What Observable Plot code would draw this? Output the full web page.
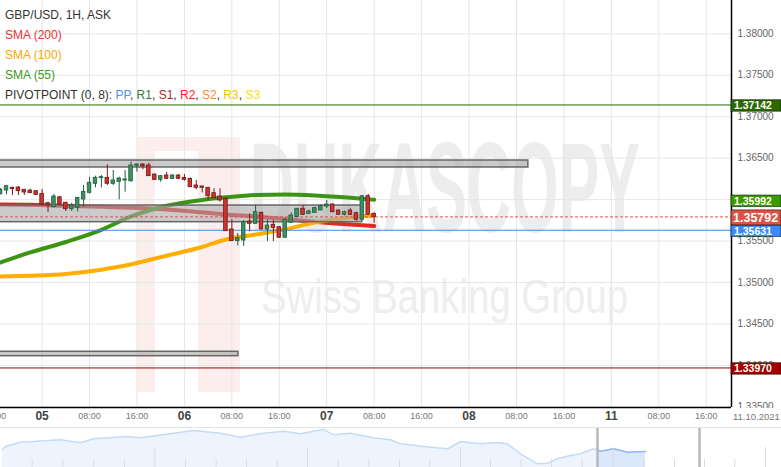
<!DOCTYPE html>
<html><head><meta charset="utf-8">
<script src="https://cdn.jsdelivr.net/npm/d3@7"></script>
<script src="https://cdn.jsdelivr.net/npm/@observablehq/plot@0.6"></script>
<style>
body{margin:0;background:#fff;font-family:"Liberation Sans",Arial,sans-serif;}
#wrap{position:relative;width:781px;height:467px;overflow:hidden;background:#fff;}
#nav{border-top:1px solid #e3e3e3;}
#legend{position:absolute;left:5px;top:5px;font-size:12px;line-height:20px;color:#333;white-space:nowrap;}
#date{position:absolute;left:733px;top:411px;font-size:9.5px;color:#777;}
</style></head><body>
<div id="wrap">
<div id="chart"></div>
<div id="nav"></div>
<div id="legend">
<div>GBP/USD, 1H, ASK</div>
<div style="color:#f23030">SMA (200)</div>
<div style="color:#ffa500">SMA (100)</div>
<div style="color:#3a9a1a">SMA (55)</div>
<div>PIVOTPOINT (0, 8): <span style="color:#4a8fe8">PP</span>, <span style="color:#2e7d32">R1</span>, <span style="color:#b22222">S1</span>, <span style="color:#ff2222">R2</span>, <span style="color:#ff8a1e">S2</span>, <span style="color:#ffc000">R3</span>, <span style="color:#f2e20a">S3</span></div>
</div>
<div id="date">11.10.2021</div>
</div>
<script>
// ---- data ----
const candleHours = d3.range(-7, 57); // hourly bars, hour 0 = 05 Oct 00:00
const open = [1.36070,1.36110,1.36143,1.36146,1.36119,1.36110,1.36102,1.36070,1.35957,1.35909,1.36028,1.35962,1.35885,1.35902,1.36002,1.36082,1.36191,1.36259,1.36263,1.36191,1.36215,1.36231,1.36222,1.36408,1.36424,1.36412,1.36303,1.36239,1.36291,1.36251,1.36291,1.36263,1.36251,1.36171,1.36159,1.36143,1.36078,1.36038,1.36009,1.35640,1.35499,1.35507,1.35736,1.35709,1.35841,1.35640,1.35697,1.35668,1.35540,1.35721,1.35788,1.35890,1.35829,1.35841,1.35869,1.35917,1.35941,1.35869,1.35817,1.35869,1.35837,1.35757,1.36041,1.35829];
const high = [1.36134,1.36171,1.36150,1.36159,1.36122,1.36126,1.36108,1.36122,1.35969,1.36062,1.36038,1.35969,1.35957,1.36028,1.36171,1.36271,1.36283,1.36291,1.36420,1.36351,1.36271,1.36351,1.36452,1.36432,1.36432,1.36439,1.36309,1.36291,1.36327,1.36303,1.36303,1.36303,1.36261,1.36231,1.36162,1.36146,1.36131,1.36131,1.36028,1.35757,1.35592,1.35748,1.35829,1.35929,1.35849,1.35757,1.35748,1.35674,1.35769,1.35841,1.35893,1.35926,1.35877,1.35909,1.35938,1.35990,1.35950,1.35873,1.35861,1.35890,1.35849,1.36050,1.36062,1.35841];
const low = [1.36056,1.36058,1.36050,1.36050,1.36050,1.36074,1.36052,1.35929,1.35845,1.35902,1.35935,1.35857,1.35857,1.35853,1.35909,1.36070,1.36143,1.36143,1.36171,1.36171,1.35998,1.36090,1.36210,1.36331,1.36360,1.36279,1.36231,1.36210,1.36243,1.36243,1.36243,1.36222,1.36146,1.36119,1.36082,1.35990,1.36009,1.35969,1.35616,1.35495,1.35441,1.35435,1.35611,1.35706,1.35636,1.35495,1.35495,1.35536,1.35535,1.35712,1.35785,1.35815,1.35827,1.35839,1.35867,1.35893,1.35841,1.35815,1.35803,1.35809,1.35740,1.35748,1.35809,1.35716];
const close = [1.36119,1.36162,1.36126,1.36102,1.36086,1.36078,1.36058,1.35941,1.35938,1.36038,1.35941,1.35885,1.35929,1.36021,1.36094,1.36203,1.36263,1.36271,1.36191,1.36231,1.36255,1.36243,1.36412,1.36424,1.36403,1.36283,1.36239,1.36283,1.36251,1.36291,1.36251,1.36239,1.36150,1.36142,1.36143,1.36041,1.36016,1.35990,1.35619,1.35499,1.35535,1.35728,1.35709,1.35849,1.35640,1.35688,1.35660,1.35540,1.35757,1.35809,1.35890,1.35817,1.35857,1.35897,1.35921,1.35941,1.35849,1.35817,1.35849,1.35817,1.35757,1.36041,1.35817,1.35792];

const smaHours = [-7,-2,4,10,15,18,21,27,31,36,41,46,52,56];
const sma200 = [1.35941,1.35938,1.35926,1.35914,1.35902,1.35893,1.35881,1.35847,1.35821,1.35797,1.35766,1.35734,1.35700,1.35682];
const sma100 = [1.35073,1.35083,1.35104,1.35155,1.35220,1.35272,1.35323,1.35429,1.35519,1.35580,1.35642,1.35724,1.35785,1.35809];
const sma55  = [1.35242,1.35363,1.35489,1.35636,1.35797,1.35869,1.35926,1.35997,1.36028,1.36056,1.36062,1.36051,1.36023,1.35998];

const zoneFrom = [-8,-8,-8];
const zoneTo = [82.0,54.0,33.1];
const zoneLow = [1.36388,1.35728,1.34112];
const zoneHigh = [1.36472,1.35929,1.34165];

const pivotPP = 1.35631, pivotR1 = 1.37142, pivotS1 = 1.33970;
const lastPrice = 1.35792;
const sma55Last = 1.35992;

const tagValues = [pivotR1, pivotS1, sma55Last, pivotPP, lastPrice];
const tagLabels = ["1.37142","1.33970","1.35992","1.35631","1.35792"];
const tagColors = ["#2b6a00","#a30000","#3a9a00","#3d89f5","#dc5443"];

const yTicks = [1.335,1.34,1.345,1.35,1.355,1.36,1.365,1.37,1.375,1.38];
const gridHours = [-8,0,8,16,24,32,40,48,56,64,72,80,88,96,104,112];
const timeTickHours = [-8,8,16,32,40,56,64,80,88,104,112];
const timeTickLabels = ["16:00","08:00","16:00","08:00","16:00","08:00","16:00","08:00","16:00","08:00","16:00"];
const dayTickHours = [0,24,48,72,96];
const dayTickLabels = ["05","06","07","08","11"];

// navigator (overview) series
const navT = [2,5,20,33,60,80,93,127,140,170,193,220,240,263,283,300,323,333,350,373,390,400,430,447,460,480,497,507,520,537,547,557,570,580,593,597,600,613,627,645];
const navV = [1.3530,1.3545,1.35665,1.3570,1.35785,1.35635,1.35835,1.3595,1.35885,1.36085,1.3625,1.36115,1.35915,1.36115,1.36215,1.36085,1.3630,1.36035,1.36115,1.35885,1.35785,1.35585,1.35415,1.35335,1.3570,1.35585,1.3565,1.35585,1.35085,1.34585,1.34615,1.34835,1.3500,1.35085,1.35335,1.35275,1.35215,1.35335,1.35165,1.3520];
const navSelStart = 597;
const navHandles = [597, 699];
const navShortTicks = [31.7,62.3,93.3,124,185,215.7,246,276.7,337.7,368.3,399,429.3,490,520.7,551,581.7,643.3,674,704,734.3];
const navLongTicks = [154.3,307,460,612.7,765];

// ---- build ----
const candles = candleHours.map((h,i)=>({h, open:open[i], high:high[i], low:low[i], close:close[i]}));
const up = d => d.close >= d.open;
const sma = smaHours.map((h,i)=>({h, a:sma200[i], b:sma100[i], c:sma55[i]}));
const zones = zoneFrom.map((f,i)=>({from:f, to:zoneTo[i], lo:zoneLow[i], hi:zoneHigh[i]}));
const timeLabel = new Map(timeTickHours.map((h,i)=>[h,timeTickLabels[i]]));
const dayLabel = new Map(dayTickHours.map((h,i)=>[h,dayTickLabels[i]]));
const xDomain = [-7.015, 116.26];
const yDomain = [1.33493, 1.38402];
const font = "Liberation Sans, Arial, sans-serif";

const chart = Plot.plot({
  width: 781, height: 427,
  marginLeft: 0, marginRight: 50, marginTop: 0, marginBottom: 20,
  style: {fontFamily: font, background: "transparent", overflow: "visible"},
  x: {domain: xDomain, axis: null},
  y: {domain: yDomain, axis: null},
  color: {type: "identity"},
  marks: [
    Plot.gridX(gridHours, {stroke: "#e6e6e6", strokeOpacity: 1}),
    Plot.gridY(yTicks, {stroke: "#e6e6e6", strokeOpacity: 1}),
    Plot.line(sma, {x: "h", y: "a", stroke: "#e32626", strokeWidth: 4, curve: "monotone-x", clip: true}),
    Plot.line(sma, {x: "h", y: "b", stroke: "#ffae00", strokeWidth: 4, curve: "monotone-x", clip: true}),
    Plot.line(sma, {x: "h", y: "c", stroke: "#3b9412", strokeWidth: 4, curve: "monotone-x", clip: true}),
    Plot.rect(zones, {x1: "from", x2: "to", y1: "lo", y2: "hi", fill: "#a9a9a9", fillOpacity: 0.6, stroke: "#666", strokeWidth: 1.5, clip: true}),
    Plot.ruleY([pivotR1], {stroke: "#2b6a00"}),
    Plot.ruleY([pivotS1], {stroke: "#a30000"}),
    Plot.ruleY([pivotPP], {stroke: "#3d89f5"}),
    Plot.ruleY([lastPrice], {stroke: "#d9534f", strokeDasharray: "3,2"}),
    Plot.ruleX(candles, {x: "h", y1: "low", y2: "high", stroke: d => up(d) ? "#1f5e3c" : "#7a1a1a", clip: true}),
    Plot.rect(candles, {x1: d => d.h - 0.3, x2: d => d.h + 0.3, y1: "open", y2: "close",
      fill: d => up(d) ? "#3f8f63" : "#d0332c", stroke: d => up(d) ? "#1f5e3c" : "#6e1717", strokeWidth: 0.8, clip: true}),
    Plot.ruleX([xDomain[1]], {stroke: "#000", strokeWidth: 1.5}),
    Plot.ruleY([yDomain[0]], {stroke: "#000", strokeWidth: 1.5}),
    Plot.axisY(yTicks, {anchor: "right", tickSize: 0, tickPadding: 6, tickFormat: d3.format(".5f"), fontSize: 10, color: "#666"}),
    Plot.axisX(timeTickHours, {anchor: "bottom", tickSize: 0, tickPadding: 5, tickFormat: d => timeLabel.get(d), fontSize: 9, color: "#777"}),
    Plot.axisX(dayTickHours, {anchor: "bottom", tickSize: 0, tickPadding: 4, tickFormat: d => dayLabel.get(d), fontSize: 12, fontWeight: "bold", color: "#444"})
  ]
});
document.getElementById("chart").appendChild(chart);

const svg = d3.select(chart);
// watermark (behind everything)
const wm = svg.insert("g", ":first-child").attr("pointer-events", "none").attr("text-anchor", "start");
wm.append("rect").attr("x",137).attr("y",137).attr("width",18).attr("height",255).attr("fill","#fdeeee");
wm.append("rect").attr("x",198).attr("y",137).attr("width",42).attr("height",255).attr("fill","#fdeeee");
wm.append("rect").attr("x",155).attr("y",137).attr("width",43).attr("height",14).attr("fill","#fdeeee");
wm.append("text").attr("x",250).attr("y",232).attr("font-family",font).attr("font-size",128).attr("font-weight","bold")
  .attr("textLength",390).attr("lengthAdjust","spacingAndGlyphs").attr("fill","#ededed").text("DUKASCOPY");
wm.append("text").attr("x",261).attr("y",313).attr("font-family",font).attr("font-size",48)
  .attr("textLength",367).attr("lengthAdjust","spacingAndGlyphs").attr("fill","#eeeeee").text("Swiss Banking Group");

// clip the y tick labels at the bottom of the frame
const defs = svg.append("defs");
defs.append("clipPath").attr("id","yclip").append("rect").attr("x",0).attr("y",0).attr("width",781).attr("height",407.5);
svg.selectAll('g[aria-label="y-axis tick label"]').attr("clip-path","url(#yclip)");

// price tags on the right axis, positioned with the plot's y scale
const yS = chart.scale("y");
const tg = svg.append("g").attr("text-anchor", "start");
tagValues.forEach((v,i) => {
  const big = tagLabels[i] === "1.35792";
  const cy = yS.apply(v) + 1;
  const hh = big ? 15 : 11.5;
  tg.append("rect").attr("x",731).attr("y",cy-hh/2).attr("width",50).attr("height",hh)
    .attr("fill",tagColors[i]).attr("stroke","rgba(0,0,0,0.55)").attr("stroke-width",1);
  tg.append("text").attr("x", big ? 733 : 734).attr("y", cy).attr("dy","0.36em").attr("fill","#fff").attr("text-anchor","start")
    .attr("font-family",font).attr("font-weight","bold").attr("font-size", big ? 12.5 : 10.5).text(tagLabels[i]);
});

// navigator
const navAll = navT.map((t,i)=>({t, v:navV[i]}));
const navSel = navAll.filter(d => d.t >= navSelStart);
const navBase = 1.344;
const nav = Plot.plot({
  width: 781, height: 39, margin: 0,
  style: {background: "transparent", overflow: "visible"},
  x: {domain: [0, 781], axis: null},
  y: {domain: [navBase, 1.3635], axis: null},
  marks: [
    Plot.areaY(navAll, {x: "t", y1: navBase, y2: "v", fill: "#eef4fd"}),
    Plot.lineY(navAll, {x: "t", y: "v", stroke: "#c7dbf7"}),
    Plot.areaY(navSel, {x: "t", y1: navBase, y2: "v", fill: "#dbe7fa"}),
    Plot.lineY(navSel, {x: "t", y: "v", stroke: "#95b9ef"}),
    Plot.ruleX(navShortTicks, {insetTop: 31, stroke: "#dcdcdc"}),
    Plot.ruleX(navLongTicks, {insetTop: 19, stroke: "#dcdcdc"}),
    Plot.ruleX(navHandles, {stroke: "#b8b8b8", strokeWidth: 2.5})
  ]
});
document.getElementById("nav").appendChild(nav);
</script>
</body></html>
